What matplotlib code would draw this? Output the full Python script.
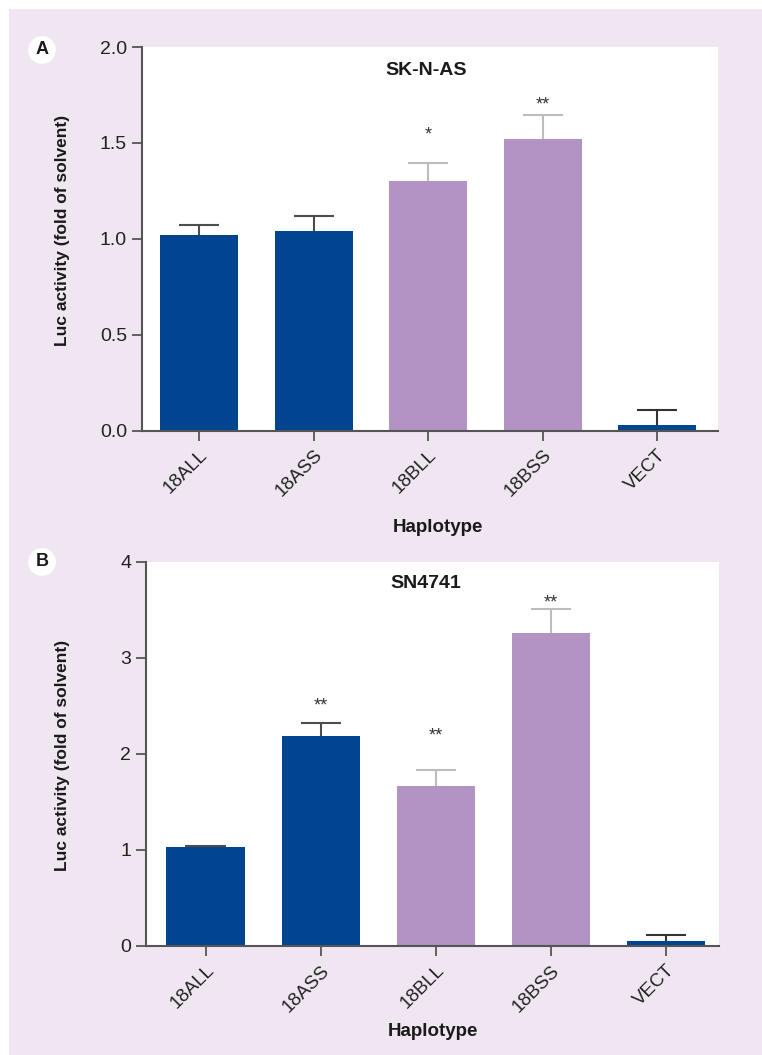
import matplotlib
matplotlib.use('Agg')
import matplotlib.pyplot as plt
from matplotlib.patches import Rectangle

plt.rcParams['font.family'] = ['Liberation Sans', 'DejaVu Sans']

haplotypes = ['18ALL', '18ASS', '18BLL', '18BSS', 'VECT']

# panel A: SK-N-AS
sknas_mean = [1.02, 1.04, 1.30, 1.52, 0.03]
sknas_err = [0.05, 0.08, 0.095, 0.125, 0.075]
sknas_sig = ['', '', '*', '**', '']
sknas_sig_y = [0, 0, 1.54, 1.70, 0]

# panel B: SN4741
sn_mean = [1.03, 2.19, 1.67, 3.26, 0.05]
sn_err = [0.015, 0.13, 0.16, 0.25, 0.06]
sn_sig = ['', '**', '**', '**', '']
sn_sig_y = [0, 2.50, 2.19, 3.57, 0]

BLUE = '#004592'
PURPLE = '#b293c4'
LAVENDER = '#f0e6f2'
bar_colors = [BLUE, BLUE, PURPLE, PURPLE, BLUE]
err_colors = ['#4d4d4d', '#4d4d4d', '#bdbdbd', '#bdbdbd', '#333333']

W, H = 762, 1055
fig = plt.figure(figsize=(W / 100, H / 100), dpi=100)
fig.patch.set_facecolor('white')
fig.add_artist(Rectangle((9 / W, 0), 1, 1 - 9 / H, transform=fig.transFigure,
                         facecolor=LAVENDER, edgecolor='none', zorder=-10))


def px(x, y):
    return x / W, 1 - y / H


def panel(rect, means, errs, sigs, sig_y, ylim, yticks, yfmt, title, title_xy,
          xlim, letter, letter_y, ylab_y, xlab_xy):
    ax = fig.add_axes(rect)
    ax.set_facecolor('white')
    x = list(range(len(means)))
    ax.bar(x, means, width=0.68, color=bar_colors, zorder=2)
    for xi, m, e, c in zip(x, means, errs, err_colors):
        ax.vlines(xi, m, m + e, colors=c, linewidth=1.5, zorder=3)
        ax.hlines(m + e, xi - 0.175, xi + 0.175, colors=c, linewidth=1.5,
                  zorder=3)
    for xi, s, sy in zip(x, sigs, sig_y):
        if s:
            ax.text(xi, sy, s, ha='center', va='center',
                    fontsize=13, color='#333333')
    ax.set_xlim(*xlim)
    ax.set_ylim(*ylim)
    ax.set_yticks(yticks)
    ax.set_yticklabels([yfmt.format(v) for v in yticks])
    ax.set_xticks(x)
    ax.set_xticklabels(haplotypes, rotation=45, ha='right',
                       rotation_mode='anchor')
    for sp in ['top', 'right']:
        ax.spines[sp].set_visible(False)
    for sp in ['left', 'bottom']:
        ax.spines[sp].set_linewidth(1.5)
        ax.spines[sp].set_color('#555555')
    ax.tick_params(axis='both', colors='#555555', width=1.3, length=7.5,
                   labelcolor='#222222', labelsize=14)
    ax.tick_params(axis='x', pad=4, labelsize=13.5)
    ax.tick_params(axis='y', pad=3)
    ax.text(title_xy[0], title_xy[1], title, transform=ax.transAxes,
            ha='center', va='center', fontsize=14, fontweight='bold',
            color='#1a1a1a')
    lx, ly = px(42, letter_y)
    fig.text(lx, ly, letter, ha='center', va='center', fontsize=13,
             fontweight='bold', color='#1a1a1a',
             bbox=dict(boxstyle='circle,pad=0.3', fc='white', ec='none'))
    yx, yy = px(62, ylab_y)
    fig.text(yx, yy, 'Luc activity (fold of solvent)', rotation=90,
             ha='center', va='center', fontsize=12.5, fontweight='bold',
             color='#1a1a1a')
    hx, hy = px(*xlab_xy)
    fig.text(hx, hy, 'Haplotype', ha='center', va='center', fontsize=13.5,
             fontweight='bold', color='#1a1a1a')
    return ax


panel([141.7 / W, 1 - 430.5 / H, (718 - 141.7) / W, (430.5 - 47) / H],
      sknas_mean, sknas_err, sknas_sig, sknas_sig_y, (0, 2.0),
      [0, 0.5, 1.0, 1.5, 2.0], '{:.1f}', 'SK-N-AS', (0.493, 0.94),
      (-0.5, 4.53), 'A', 50, 230, (438, 528))

panel([145.7 / W, 1 - 946 / H, (719 - 145.7) / W, (946 - 562) / H],
      sn_mean, sn_err, sn_sig, sn_sig_y, (0, 4), [0, 1, 2, 3, 4],
      '{:d}', 'SN4741', (0.488, 0.943), (-0.52, 4.46),
      'B', 562, 755, (433, 1031))

fig.savefig('out.png', dpi=100)
